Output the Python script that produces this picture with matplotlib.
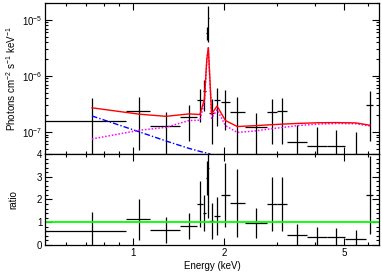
import numpy as np
import matplotlib
matplotlib.use("Agg")
import matplotlib.pyplot as plt
from matplotlib.ticker import FixedLocator, NullFormatter, MultipleLocator, LogLocator, LogFormatterMathtext

plt.rcParams['font.family'] = ['Liberation Sans', 'DejaVu Sans']
plt.rcParams['mathtext.fontset'] = 'custom'
plt.rcParams['mathtext.rm'] = 'Liberation Sans'

# ── spectral bins (keV) ─────────────────────────────────────────────────────
E_LO = [0.51, 0.95, 1.14, 1.43, 1.63, 1.70, 1.745, 1.765, 1.785, 1.855,
        1.955, 2.09, 2.34, 2.78, 3.00, 3.24, 3.77, 4.39, 5.03, 5.93]
E_HI = [0.95, 1.14, 1.43, 1.63, 1.70, 1.745, 1.765, 1.785, 1.855, 1.94,
        2.09, 2.34, 2.78, 3.00, 3.24, 3.77, 4.39, 5.03, 5.93, 6.25]

# unfolded flux (photons cm^-2 s^-1 keV^-1) and 1-sigma errors
FLUX = [1.57e-7, 2.37e-7, 1.28e-7, 1.85e-7, 3.7e-7, 5.4e-7, 5.9e-6, 1.1e-5,
        2.2e-7, 3.7e-7, 3.4e-7, 2.3e-7, 1.23e-7, 2.27e-7, 2.37e-7, 6.6e-8,
        5.6e-8, 5.6e-8, 3.4e-8, 3.0e-7]
FLUX_ERR = [2.48e-7, 1.9e-7, 1.0e-7, 1.15e-7, 2.2e-7, 3.0e-7, 1.5e-6, 7.0e-6,
            1.6e-7, 2.4e-7, 2.3e-7, 1.9e-7, 0.95e-7, 1.65e-7, 1.75e-7, 6.7e-8,
            6.7e-8, 5.3e-8, 6.6e-8, 2.3e-7]

# data / model ratio and errors
RATIO = [0.62, 1.14, 0.66, 0.84, 1.80, 1.40, 2.95, 3.40, 1.05, 1.27,
         2.20, 1.85, 0.97, 1.80, 1.80, 0.44, 0.35, 0.35, 0.26, 2.20]
RATIO_ERR = [0.83, 0.90, 0.56, 0.57, 1.00, 0.78, 0.75, 2.20, 0.80, 0.82,
             1.40, 1.50, 0.65, 1.20, 1.20, 0.48, 0.44, 0.40, 0.40, 1.70]

# model components evaluated at bin centres
MODEL_TOTAL = [2.7e-7, 2.08e-7, 1.9e-7, 2.1e-7, 2.05e-7, 3.86e-7, 2.0e-6, 3.2e-6,
               2.1e-7, 2.9e-7, 1.6e-7, 1.25e-7, 1.3e-7, 1.35e-7, 1.38e-7, 1.42e-7,
               1.46e-7, 1.47e-7, 1.45e-7, 1.32e-7]
MODEL_PL = [1.93e-7, 1.01e-7, 6.9e-8, 5.1e-8, 4.5e-8, 4.3e-8, 4.2e-8, 4.15e-8,
            3.9e-8, 3.6e-8, 3.2e-8, 2.8e-8, 2.2e-8, 1.8e-8, 1.6e-8, 1.3e-8,
            9.5e-9, 7.2e-9, 5.3e-9, 4.4e-9]
MODEL_LINE = [7.5e-8, 1.07e-7, 1.21e-7, 1.6e-7, 1.62e-7, 3.4e-7, 1.95e-6, 3.15e-6,
              1.75e-7, 2.5e-7, 1.3e-7, 9.8e-8, 1.05e-7, 1.15e-7, 1.2e-7, 1.3e-7,
              1.38e-7, 1.42e-7, 1.4e-7, 1.28e-7]

e_lo = np.array(E_LO)
e_hi = np.array(E_HI)
e_mid = 0.5 * (e_lo + e_hi)
e_err = 0.5 * (e_hi - e_lo)

fig = plt.figure(figsize=(3.82, 2.73), dpi=100)
ax1 = fig.add_axes([0.1178, 0.436, 0.8742, 0.553])
ax2 = fig.add_axes([0.1178, 0.1026, 0.8742, 0.3334], sharex=ax1)

# ── top panel: unfolded spectrum ────────────────────────────────────────────
ax1.errorbar(e_mid, FLUX, xerr=e_err, yerr=FLUX_ERR, fmt='none',
             ecolor='black', elinewidth=0.9, capsize=0)
ax1.plot(e_mid, MODEL_PL, color='#0000ff', lw=1.0, ls=(0, (4, 1.5, 1, 1.5)))
ax1.plot(e_mid, MODEL_LINE, color='#ff00ff', lw=1.1, ls=(0, (1, 1.2)))
ax1.plot(e_mid, MODEL_TOTAL, color='#ff0000', lw=1.0)
ax1.set_xscale('log')
ax1.set_yscale('log')
ax1.set_ylim(4.05e-8, 2.0e-5)
ax1.set_ylabel(r'Photons cm$^{-2}$ s$^{-1}$ keV$^{-1}$', fontsize=7)
ax1.yaxis.set_major_locator(LogLocator(base=10))
ax1.yaxis.set_major_formatter(LogFormatterMathtext())
ax1.yaxis.set_minor_locator(LogLocator(base=10, subs=np.arange(2, 10)))
ax1.yaxis.set_minor_formatter(NullFormatter())
ax1.tick_params(labelbottom=False)

# ── bottom panel: ratio ─────────────────────────────────────────────────────
ax2.errorbar(e_mid, RATIO, xerr=e_err, yerr=RATIO_ERR, fmt='none',
             ecolor='black', elinewidth=0.9, capsize=0)
ax2.axhline(1.0, color='#00ff00', lw=1.3)
ax2.set_ylim(0, 4)
ax2.yaxis.set_major_locator(MultipleLocator(1))
ax2.yaxis.set_minor_locator(MultipleLocator(0.2))
ax2.set_ylabel('ratio', fontsize=7)
ax2.set_xlabel('Energy (keV)', fontsize=7, labelpad=2)

ax2.set_xlim(0.51, 6.53)
ax2.xaxis.set_major_locator(FixedLocator([1, 2, 5]))
ax2.xaxis.set_minor_locator(FixedLocator([0.6, 0.7, 0.8, 0.9, 3, 4, 6]))
ax2.xaxis.set_major_formatter(matplotlib.ticker.FuncFormatter(lambda v, p: f'{v:g}'))
ax2.xaxis.set_minor_formatter(NullFormatter())

# both y labels sit in the same column at the left edge
ax1.yaxis.set_label_coords(-0.08, 0.5)
ax2.yaxis.set_label_coords(-0.08, 0.5)

for ax in (ax1, ax2):
    ax.tick_params(which='both', direction='in', top=True, right=True,
                   labelsize=7, pad=2, width=0.8)
    ax.tick_params(which='major', length=5)
    ax.tick_params(which='minor', length=2.5)
    for spine in ax.spines.values():
        spine.set_linewidth(0.9)

fig.savefig('out.png', dpi=100)
